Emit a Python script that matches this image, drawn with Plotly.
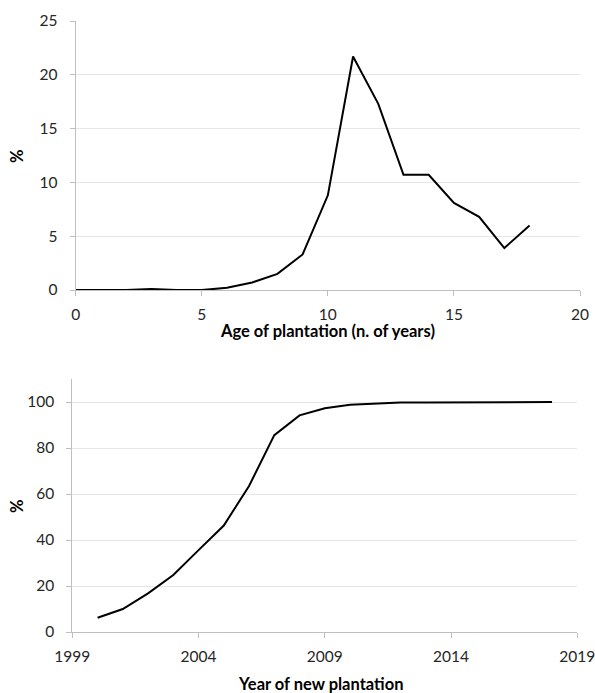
import plotly.graph_objects as go

age = list(range(0, 19))
age_pct = [0, 0, 0, 0.1, 0, 0, 0.2, 0.7, 1.5, 3.3, 8.8, 21.7, 17.3, 10.7, 10.7, 8.1, 6.8, 3.9, 6.0]

years = list(range(2000, 2019))
cum_pct = [6.2, 10, 16.8, 24.8, 35.6, 46.3, 63.5, 85.6, 94.2, 97.3, 98.8, 99.4, 99.8, 99.8, 99.8, 100, 100, 100, 100]

W, H = 595, 693
FONT = "Lato"
TICKC = "#262626"
AXC = "#bfbfbf"
GRIDC = "#e6e6e6"

def fx(p):
    return p / W

def fy(p):
    return 1 - p / H

fig = go.Figure()
fig.add_trace(go.Scatter(x=age, y=age_pct, mode="lines", line=dict(color="black", width=2),
                         xaxis="x", yaxis="y", showlegend=False, hoverinfo="skip"))
fig.add_trace(go.Scatter(x=years, y=cum_pct, mode="lines", line=dict(color="black", width=2),
                         xaxis="x2", yaxis="y2", showlegend=False, hoverinfo="skip"))

common_x = dict(showgrid=False, showline=True, linecolor=AXC, linewidth=1, ticks="outside",
                ticklen=5, tickcolor=AXC, tickfont=dict(family=FONT, size=15.5, color=TICKC),
                zeroline=False, automargin=False, ticklabelstandoff=5, ticklabeloverflow="allow")
common_y = dict(showgrid=True, gridcolor=GRIDC, gridwidth=1, showline=True, linecolor=AXC, linewidth=1,
                ticks="outside", ticklen=5, tickcolor=AXC, tickfont=dict(family=FONT, size=15.5, color=TICKC),
                zeroline=False, automargin=False, ticklabelstandoff=9, ticklabeloverflow="allow")

fig.update_layout(
    template="none",
    width=W, height=H,
    margin=dict(l=0, r=0, t=0, b=0, autoexpand=False),
    paper_bgcolor="white", plot_bgcolor="white",
    xaxis=dict(domain=[fx(75.7), fx(580)], range=[0, 20], tick0=0, dtick=5, anchor="y", **common_x),
    yaxis=dict(domain=[fy(290), fy(21)], range=[0, 25], tick0=0, dtick=5, anchor="x", **common_y),
    xaxis2=dict(domain=[fx(72.3), fx(577.3)], range=[1999, 2019], tick0=1999, dtick=5, anchor="y2", **common_x),
    yaxis2=dict(domain=[fy(632), fy(379)], range=[0, 110], tick0=0, dtick=20, anchor="x2", **common_y),
)

annots = [
    dict(text="<b>Age of plantation (n. of years)</b>", x=fx(327), y=fy(331)),
    dict(text="<b>Year of new plantation</b>", x=fx(320), y=fy(684)),
    dict(text="<b>%</b>", x=fx(17), y=fy(156), textangle=-90),
    dict(text="<b>%</b>", x=fx(17), y=fy(506), textangle=-90),
]
for a in annots:
    fig.add_annotation(xref="paper", yref="paper", xanchor="center", yanchor="middle", showarrow=False,
                       font=dict(family=FONT, size=16.5, color="black"), **a)

fig.write_html("out.html", config={"displayModeBar": False, "staticPlot": True},
               post_script="document.body.style.margin='0';document.body.style.overflow='hidden';")
